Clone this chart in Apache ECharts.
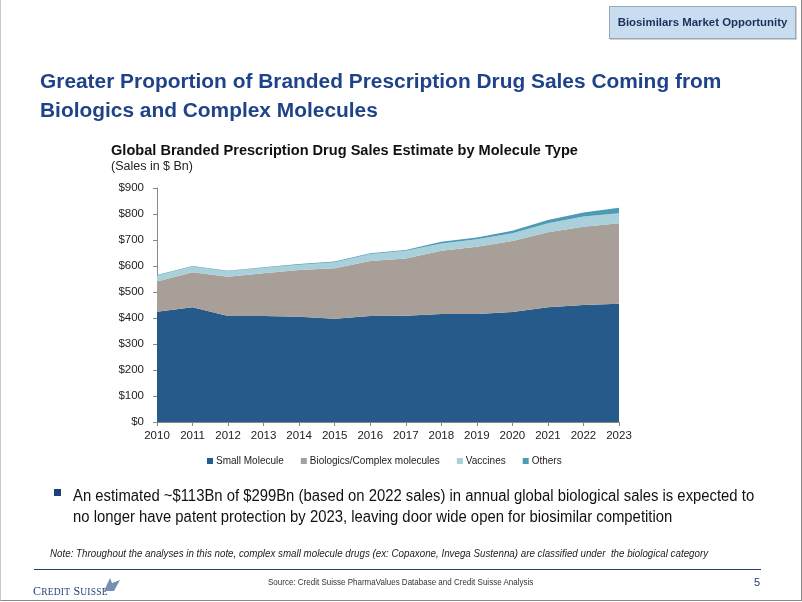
<!DOCTYPE html>
<html>
<head>
<meta charset="utf-8">
<script src="https://cdn.jsdelivr.net/npm/echarts@6/dist/echarts.min.js"></script>
<style>
html,body{margin:0;padding:0;background:#fff;}
#wrap{position:relative;width:802px;height:602px;overflow:hidden;font-family:"Liberation Sans",Arial,sans-serif;}
#chart{position:absolute;left:0;top:0;width:802px;height:602px;}
.t{position:absolute;white-space:nowrap;transform-origin:0 0;}
</style>
</head>
<body>
<div id="wrap">
<div id="chart"></div>
<div class="t" style="left:0;top:0;width:800px;height:600px;border-right:1px solid #8a8a8a;border-bottom:1px solid #8a8a8a;border-left:1px solid #c8c8c8;"></div>
<div class="t" style="left:609px;top:6px;width:185px;height:31px;background:#c9ddf1;border:1px solid #9aa7b8;box-shadow:1px 1px 0 #d0d0d0;font-weight:bold;font-size:11.4px;color:#1b2f5c;line-height:31px;text-align:center;">Biosimilars Market Opportunity</div>
<div class="t" style="left:40px;top:66px;font-weight:bold;font-size:20.9px;line-height:29px;color:#1f4388;">Greater Proportion of Branded Prescription Drug Sales Coming from<br>Biologics and Complex Molecules</div>
<div class="t" style="left:111px;top:141px;font-weight:bold;font-size:15.5px;color:#111;transform:scaleX(0.94);">Global Branded Prescription Drug Sales Estimate by Molecule Type</div>
<div class="t" style="left:111px;top:159px;font-size:12.5px;color:#222;">(Sales in $ Bn)</div>
<div class="t" style="left:54px;top:489px;width:7px;height:7px;background:#1f3f7a;"></div>
<div class="t" style="left:73px;top:485px;font-size:16px;line-height:21px;color:#111;transform:scaleX(0.928);">An estimated ~$113Bn of $299Bn (based on 2022 sales) in annual global biological sales is expected to<br>no longer have patent protection by 2023, leaving door wide open for biosimilar competition</div>
<div class="t" style="left:50px;top:547px;font-style:italic;font-size:11px;color:#222;transform:scaleX(0.888);">Note: Throughout the analyses in this note, complex small molecule drugs (ex: Copaxone, Invega Sustenna) are classified under&nbsp; the biological category</div>
<div class="t" style="left:34px;top:569px;width:727px;height:1px;background:#1f3f7a;"></div>
<div class="t" style="left:268px;top:577px;font-size:9px;color:#333;transform:scaleX(0.89);">Source: Credit Suisse PharmaValues Database and Credit Suisse Analysis</div>
<div class="t" style="left:754px;top:576px;font-size:11px;color:#1f3f7a;">5</div>
<div class="t" style="left:33px;top:584px;font-family:'Liberation Serif',serif;font-size:12px;color:#1f3f7a;letter-spacing:0.2px;">C<span style="font-size:9.5px">REDIT</span> S<span style="font-size:9.5px">UISSE</span></div>
<svg class="t" style="left:103px;top:577px;" width="18" height="15"><path d="M1 14 L7 1 L9 6 L17 3 L11 14 Z" fill="#7a8fb0"/></svg>
</div>
<script>
var years = ['2010','2011','2012','2013','2014','2015','2016','2017','2018','2019','2020','2021','2022','2023'];
var smallMolecule = [424,441,408,408,405,397,408,409,415,415,423,441,450,455];
var biologics     = [116,135,151,164,180,194,211,220,244,259,273,289,301,309];
var vaccines      = [23,22,21,21,20,23,27,30,28,29,30,34,39,39];
var others        = [2,2,2,2,3,3,3,3,6,7,10,13,16,21];
var yTicks = [0,100,200,300,400,500,600,700,800,900];

var chart = echarts.init(document.getElementById('chart'));
function area(name, data, color){
  return {name:name,type:'line',stack:'total',data:data,symbol:'none',
    lineStyle:{width:0},areaStyle:{color:color,opacity:1},itemStyle:{color:color},emphasis:{disabled:true}};
}
chart.setOption({
  animation:false,
  grid:{left:157,right:183,top:188,bottom:180,containLabel:false},
  legend:{left:202,top:451,itemWidth:6,itemHeight:6,icon:'rect',itemGap:17,
    textStyle:{fontSize:10,color:'#222',padding:[0,0,0,-2]},
    data:['Small Molecule','Biologics/Complex molecules','Vaccines','Others']},
  xAxis:{type:'category',data:years,boundaryGap:false,
    axisLine:{lineStyle:{color:'#888'}},axisTick:{show:true,length:4,lineStyle:{color:'#888'}},
    axisLabel:{fontSize:11.5,color:'#222',margin:8}},
  yAxis:{type:'value',min:yTicks[0],max:yTicks[yTicks.length-1],interval:100,
    splitLine:{show:false},
    axisLine:{show:true,lineStyle:{color:'#888'}},axisTick:{show:true,length:4,lineStyle:{color:'#888'}},
    axisLabel:{fontSize:11.5,color:'#222',margin:13,formatter:function(v){return '$'+v;}}},
  series:[
    area('Small Molecule',smallMolecule,'#255a8a'),
    area('Biologics/Complex molecules',biologics,'#a89f99'),
    area('Vaccines',vaccines,'#a9d0db'),
    area('Others',others,'#4d9ab4')
  ]
});
</script>
</body>
</html>
